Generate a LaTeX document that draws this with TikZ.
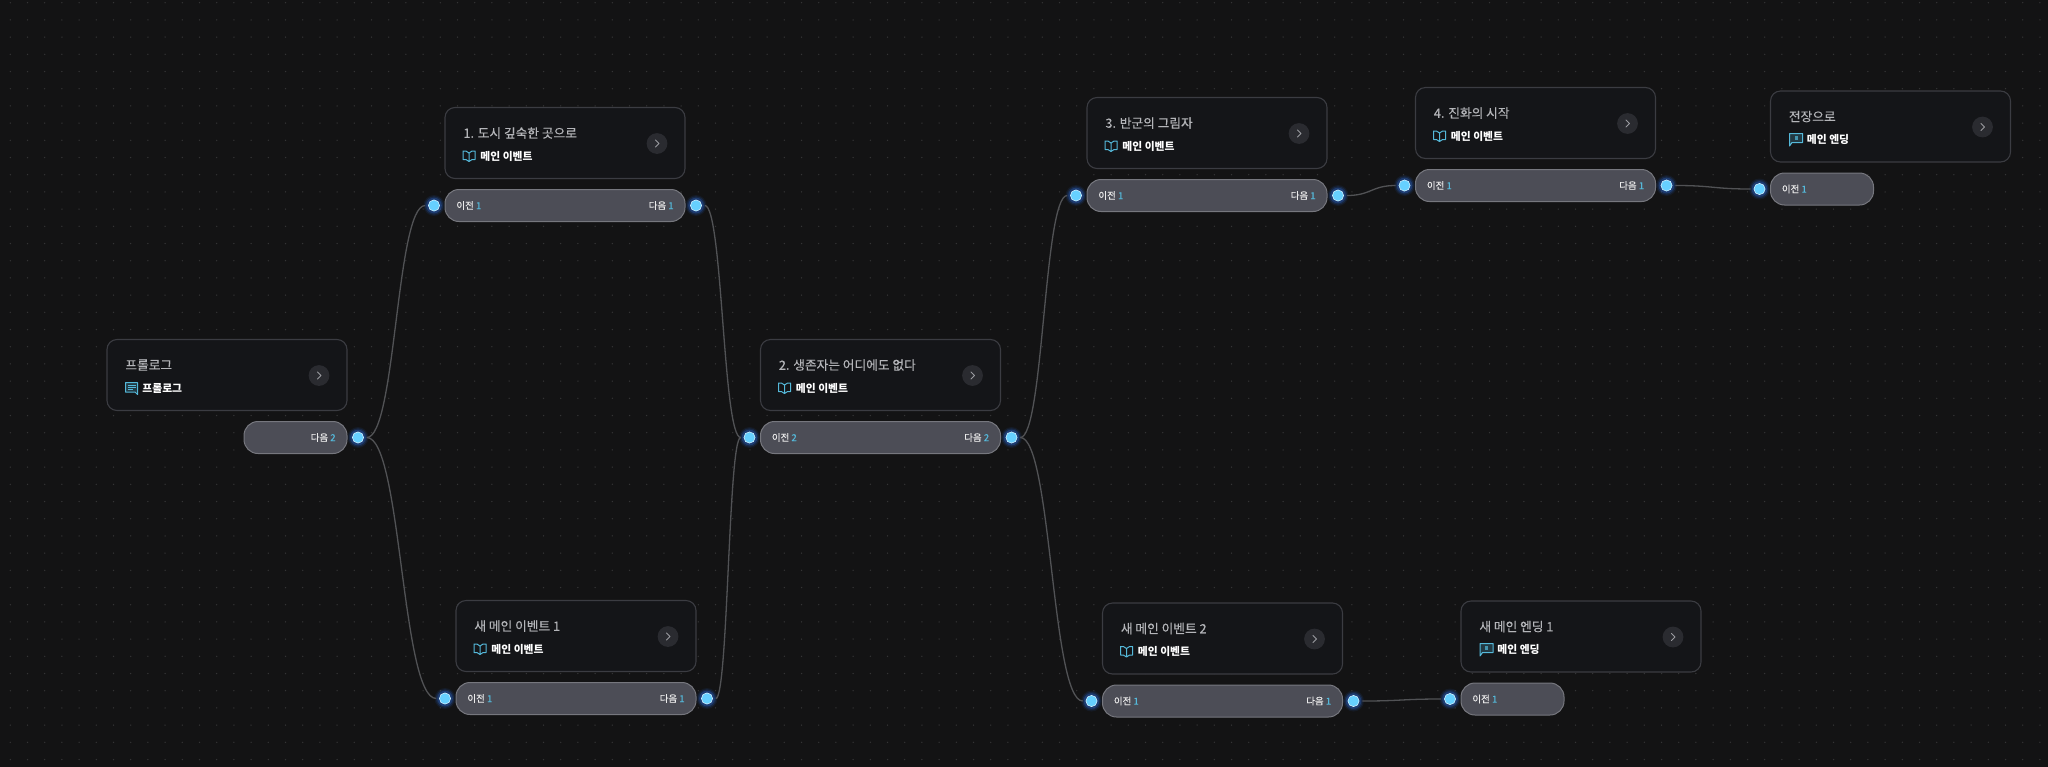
\documentclass[tikz,border=0pt]{standalone}
\usepackage{fontspec}
\setmainfont{Noto Sans CJK KR}
\newfontfamily\medfont[FakeBold=0.25]{Noto Sans CJK KR}
\usetikzlibrary{calc}
\definecolor{bgc}{HTML}{131314}
\definecolor{dotc}{HTML}{343435}
\definecolor{cardfill}{HTML}{141518}
\definecolor{cardline}{HTML}{3B3C42}
\definecolor{pillfill}{HTML}{4C4D56}
\definecolor{pillline}{HTML}{76777E}
\definecolor{titlec}{HTML}{B4B5B9}
\definecolor{cyanc}{HTML}{55B9DA}
\definecolor{portc}{HTML}{66D0FF}
\definecolor{glowc}{HTML}{2F7BFF}
\definecolor{btnc}{HTML}{2A2B30}
\definecolor{chevc}{HTML}{9A9BA0}
\definecolor{wirec}{HTML}{515255}
\tikzset{
  cardbox/.style={draw=cardline,fill=cardfill,line width=.55pt,rounded corners=5pt,minimum width=120pt,minimum height=35.5pt,anchor=north west,inner sep=0pt,outer sep=0pt},
  pillbox/.style={draw=pillline,fill=pillfill,line width=.5pt,rounded corners=7pt,minimum height=16pt,anchor=north west,inner sep=0pt,outer sep=0pt},
  titletext/.style={anchor=west,inner sep=0pt,text=titlec,font=\medfont\fontsize{6.35pt}{7pt}\selectfont},
  badgetext/.style={anchor=west,inner sep=0pt,text=white,font=\bfseries\fontsize{5.4pt}{6pt}\selectfont},
  pilltext/.style={inner sep=0pt,text=white!92!black,font=\medfont\fontsize{4.75pt}{5pt}\selectfont},
  portdot/.style={circle,draw=white!70!portc,fill=portc,line width=.3pt,minimum size=5.6pt,inner sep=0pt,outer sep=1.6pt},
  btnbox/.style={circle,fill=btnc,minimum size=10.4pt,inner sep=0pt},
  wire/.style={draw=wirec,line width=.65pt},
  ic/.style={draw=cyanc,line width=.5pt,line join=round},
  chev/.style={draw=chevc,line width=.45pt,line cap=round,line join=round}
}
\newcommand{\bookglyph}{%
  \draw[ic] (24,45.5) .. controls (22,43.5) and (20,43) .. (18,43.5) -- (18,52) .. controls (20,51.5) and (22,52) .. (24,54) .. controls (26,52) and (28,51.5) .. (30,52) -- (30,43.5) .. controls (28,43) and (26,43.5) .. (24,45.5) -- (24,54);}
\newcommand{\finishglyph}{%
  \draw[ic,fill=cyanc!22!cardfill] (19,55) -- (19,42.5) -- (32,42.5) -- (32,51.5) -- (21.5,51.5) -- cycle;
  \fill[cyanc!80!black] (24,45) rectangle (27,49);}
\newcommand{\prologueglyph}{%
  \draw[ic,fill=cyanc!22!cardfill] (18.5,43) -- (30.5,43) -- (30.5,55) -- (28,52.5) -- (18.5,52.5) -- cycle;
  \draw[cyanc,line width=.3pt] (20.5,46) -- (28.5,46) (20.5,48) -- (28.5,48) (20.5,50) -- (26,50);}
% name, x, y, title, icon, badge, badge text x
\newcommand{\storycard}[7]{%
  \begin{scope}[shift={(#2,#3)}]
    \node[cardbox] (#1) at (0,0) {};
    \node[titletext] (#1title) at (18,25.5) {#4};
    #5
    \node[badgetext] (#1badge) at (#7,48.5) {#6};
    \node[btnbox] (#1btn) at (212,36) {};
    \draw[chev] (210.5,32.5) -- (214,36) -- (210.5,39.5);
  \end{scope}}
\newcommand{\portglow}[2]{%
  \fill[glowc,opacity=.08] (#1,#2) circle (10.5);
  \fill[glowc,opacity=.14] (#1,#2) circle (9.2);
  \fill[glowc,opacity=.25] (#1,#2) circle (7.8);}
\newcommand{\prevpart}[2]{%
  \node[pilltext,anchor=west] (#1prev) at (11,98) {이전 \textcolor{cyanc}{#2}};
  \portglow{-11}{98}
  \node[portdot] (#1in) at (-11,98) {};}
\newcommand{\nextpart}[2]{%
  \node[pilltext,anchor=east] (#1next) at (229,98) {다음 \textcolor{cyanc}{#2}};
  \portglow{251}{98}
  \node[portdot] (#1out) at (251,98) {};}
\newcommand{\pillfull}[5]{% name x y prev next
  \begin{scope}[shift={(#2,#3)}]
    \node[pillbox,minimum width=120pt] (#1pill) at (0,82) {};
    \prevpart{#1}{#4}\nextpart{#1}{#5}
  \end{scope}}
\newcommand{\pillprev}[4]{%
  \begin{scope}[shift={(#2,#3)}]
    \node[pillbox,minimum width=51.5pt] (#1pill) at (0,82) {};
    \prevpart{#1}{#4}
  \end{scope}}
\newcommand{\pillnext}[4]{%
  \begin{scope}[shift={(#2,#3)}]
    \node[pillbox,minimum width=51.5pt] (#1pill) at (137,82) {};
    \nextpart{#1}{#4}
  \end{scope}}
\newcommand{\conn}[2]{%
  \coordinate (mid) at ($(#1out.east)!.5!(#2in.west)$);
  \draw[wire] (#1out.east) .. controls (mid |- #1out.east) and (mid |- #2in.west) .. (#2in.west);}
\begin{document}
\begin{tikzpicture}[x=.5pt,y=-.5pt]
\useasboundingbox (0,0) rectangle (2048,766);
\fill[bgc] (-4,-4) rectangle (2052,770);
\foreach \i in {0,...,118} \foreach \j in {0,...,44} {\fill[dotc] ({10.3+17.2*\i},{2.7+17.2*\j}) circle (.75);}
\storycard{pro}{107}{339.5}{프롤로그}{\prologueglyph}{프롤로그}{35}
\pillnext{pro}{107}{339.5}{2}
\storycard{a}{445}{107.5}{1. 도시 깊숙한 곳으로}{\bookglyph}{메인 이벤트}{35}
\pillfull{a}{445}{107.5}{1}{1}
\storycard{b}{760.5}{339.5}{2. 생존자는 어디에도 없다}{\bookglyph}{메인 이벤트}{35}
\pillfull{b}{760.5}{339.5}{2}{2}
\storycard{c}{1087}{97.5}{3. 반군의 그림자}{\bookglyph}{메인 이벤트}{35}
\pillfull{c}{1087}{97.5}{1}{1}
\storycard{d}{1415.5}{87.5}{4. 진화의 시작}{\bookglyph}{메인 이벤트}{35}
\pillfull{d}{1415.5}{87.5}{1}{1}
\storycard{e}{1770.5}{91}{전장으로}{\finishglyph}{메인 엔딩}{36}
\pillprev{e}{1770.5}{91}{1}
\storycard{f}{456}{600.5}{새 메인 이벤트 1}{\bookglyph}{메인 이벤트}{35}
\pillfull{f}{456}{600.5}{1}{1}
\storycard{g}{1102.5}{603}{새 메인 이벤트 2}{\bookglyph}{메인 이벤트}{35}
\pillfull{g}{1102.5}{603}{1}{1}
\storycard{h}{1461}{601}{새 메인 엔딩 1}{\finishglyph}{메인 엔딩}{36}
\pillprev{h}{1461}{601}{1}
\conn{pro}{a}
\conn{pro}{f}
\conn{a}{b}
\conn{f}{b}
\conn{b}{c}
\conn{b}{g}
\conn{c}{d}
\conn{d}{e}
\conn{g}{h}
\end{tikzpicture}
\end{document}
